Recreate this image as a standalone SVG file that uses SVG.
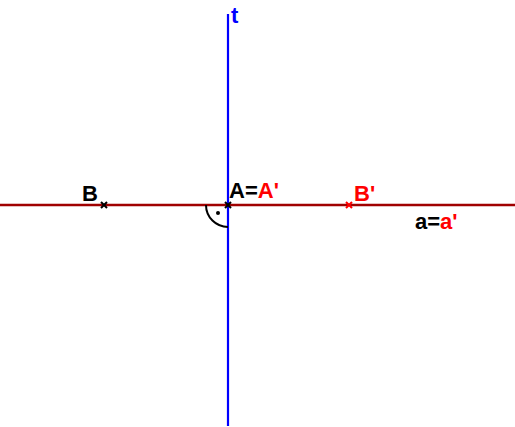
<svg xmlns="http://www.w3.org/2000/svg" width="515" height="427" viewBox="0 0 515 427">
<style>
.lbl{font-family:"Liberation Sans",Arial,sans-serif;font-weight:bold;font-size:22px}
.blk{fill:#000}
.red{fill:#ff0000}
.cross{stroke-width:2;fill:none}
</style>
<rect width="515" height="427" fill="#fff"/>
<g id="connectors">
<line id="a" x1="0" y1="205" x2="515" y2="205" stroke="#a00000" stroke-width="2.4"/>
<line id="t" x1="228" y1="14" x2="228" y2="426" stroke="#0000ff" stroke-width="2.2"/>
<path id="angle" d="M206,205 A22,22 0 0 0 228,227" fill="none" stroke="#000" stroke-width="2"/>
<circle cx="218" cy="213" r="2" fill="#000"/>
</g>
<g id="t-label"><text class="lbl" x="231" y="23" fill="#0000ff">t</text></g>
<g id="A">
<path class="cross" stroke="#000" d="M225,202 L231,208 M231,202 L225,208"/>
<text class="lbl" x="229" y="198"><tspan class="blk">A=</tspan><tspan class="red">A'</tspan></text>
</g>
<g id="B">
<path class="cross" stroke="#000" d="M101,202 L107,208 M107,202 L101,208"/>
<text class="lbl blk" x="82" y="201">B</text>
</g>
<g id="Bp">
<path class="cross" stroke="#ff0000" d="M346,202 L352,208 M352,202 L346,208"/>
<text class="lbl red" x="354" y="201">B'</text>
</g>
<g id="a-label"><text class="lbl" x="415" y="229"><tspan class="blk">a=</tspan><tspan class="red">a'</tspan></text></g>
</svg>
